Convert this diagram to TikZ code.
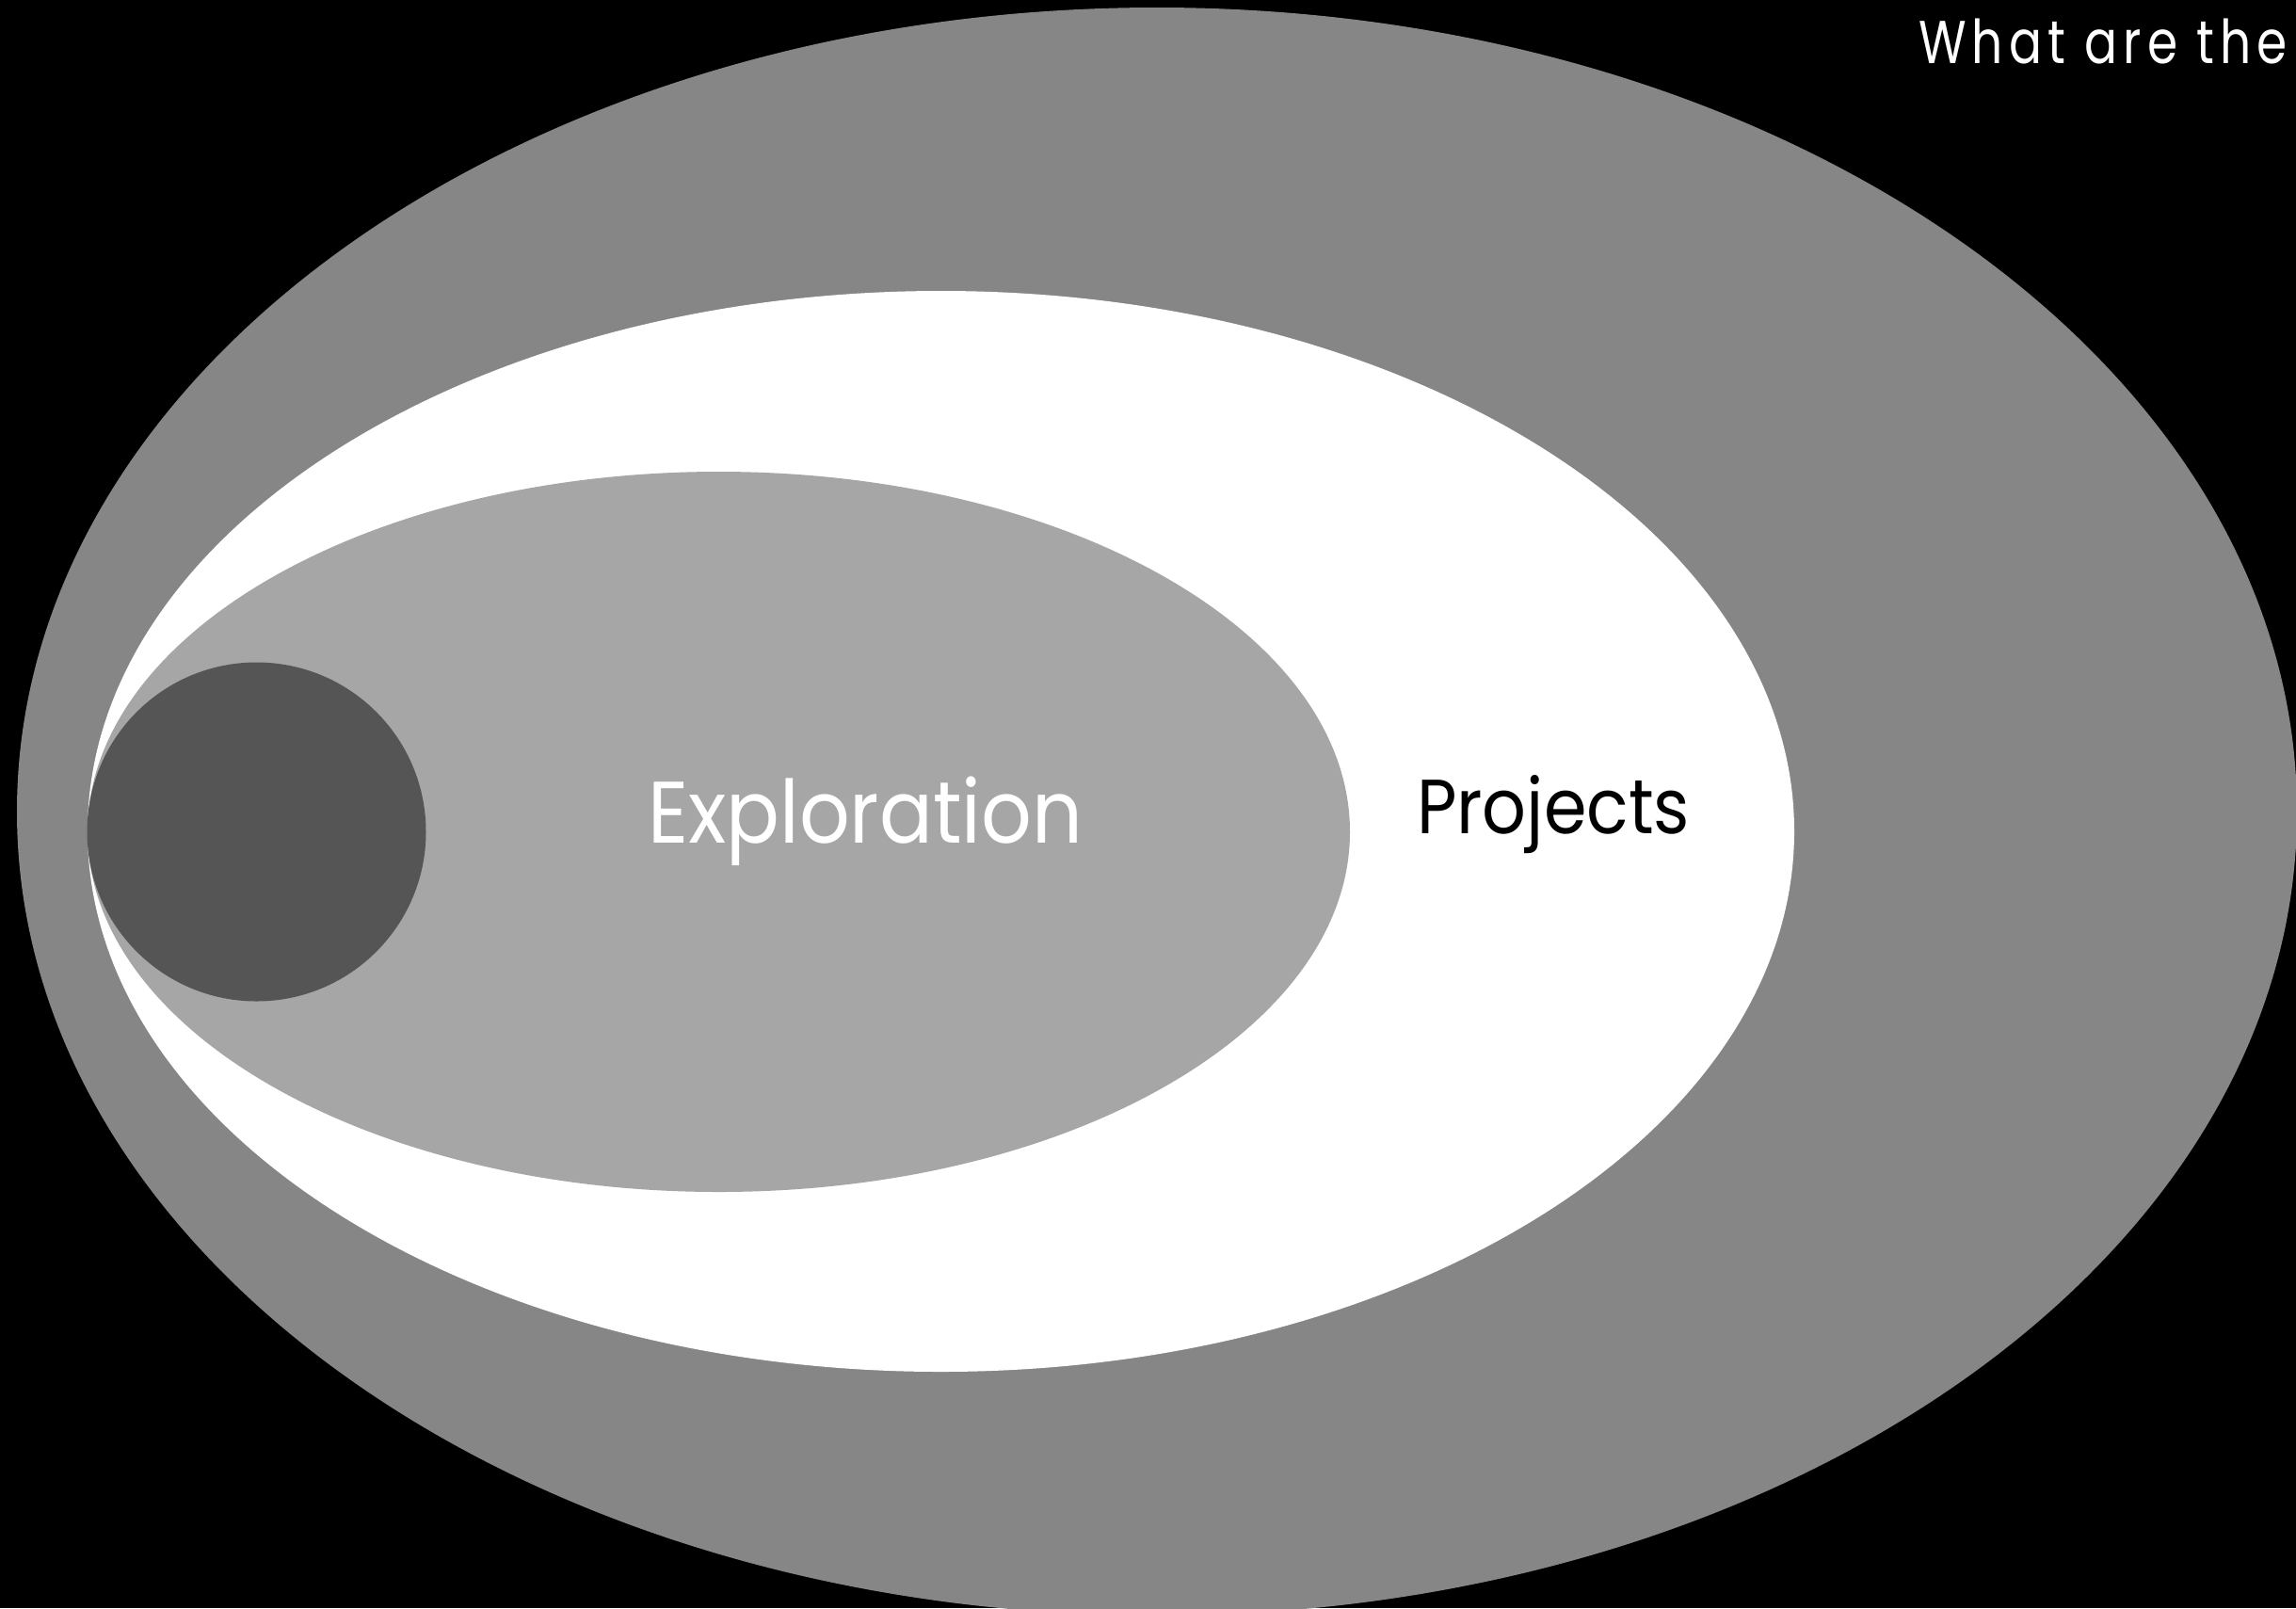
\documentclass[tikz,border=0pt]{standalone}
\usepackage{fontspec}
\setmainfont{Poppins}
\usepackage{graphicx}
\definecolor{outergray}{RGB}{134,134,134}
\definecolor{lightgray}{RGB}{166,166,166}
\definecolor{darkgray}{RGB}{85,85,85}
\tikzset{
  label/.style={inner sep=0pt, outer sep=0pt, anchor=base west},
}
\begin{document}
\begin{tikzpicture}
\useasboundingbox (0,0) rectangle (24.39,-17.08);
\fill[black] (0,0) rectangle (24.39,-17.08);
\begin{scope}
\clip (0,0) rectangle (24.39,-17.08);
\fill[outergray] (12.29,-8.62) ellipse [x radius=12.11, y radius=8.54];
\fill[white] (9.995,-8.83) ellipse [x radius=9.065, y radius=5.74];
\fill[lightgray] (7.635,-8.835) ellipse [x radius=6.705, y radius=3.825];
\fill[darkgray] (2.725,-8.835) circle [radius=1.80];
\end{scope}
\node[label, text=white] (explo) at (6.88,-8.95)
  {\resizebox{4.62cm}{\height}{\fontsize{26.4}{30}\selectfont Exploration}};
\node[label, text=black] (proj) at (15.05,-8.85)
  {\resizebox{2.90cm}{\height}{\fontsize{23.2}{28}\selectfont Projects}};
\node[label, text=white] (title) at (20.38,-0.67)
  {\resizebox{3.92cm}{\height}{\fontsize{18.3}{22}\selectfont\addfontfeatures{LetterSpace=12}What are the}};
\end{tikzpicture}
\end{document}
